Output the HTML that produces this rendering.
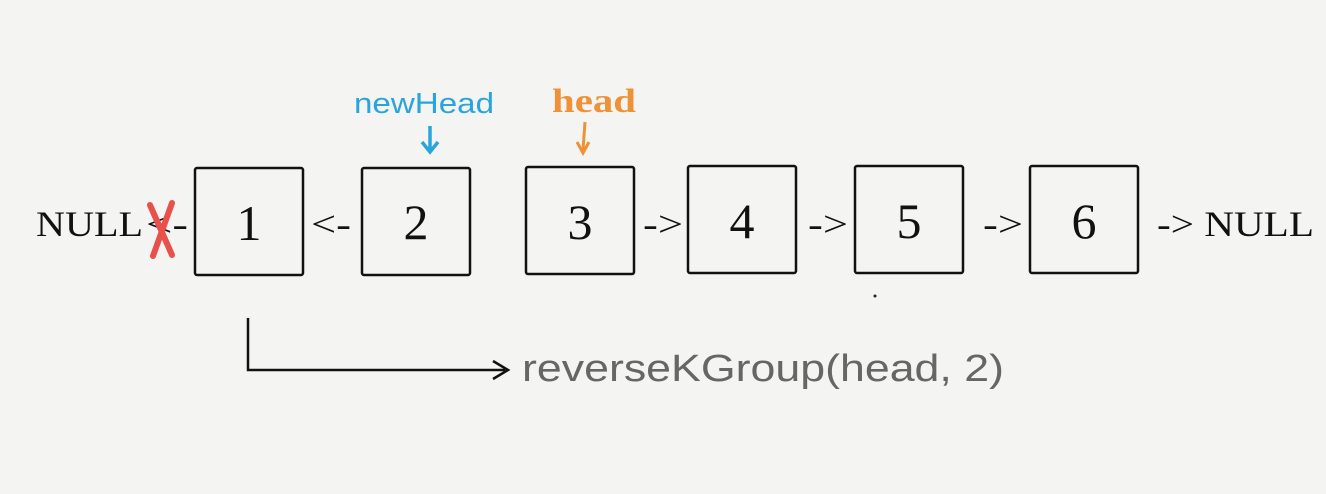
<html><body style="margin:0;background:#f4f4f3">
<svg width="1326" height="494" xmlns="http://www.w3.org/2000/svg" style="display:block">
<rect width="1326" height="494" fill="#f4f4f3"/>
<g fill="none" stroke="#111" stroke-width="2.5">
<rect x="195" y="168" width="108" height="107" rx="2"/>
<rect x="362" y="168" width="108" height="107" rx="2"/>
<rect x="526" y="167" width="108" height="107" rx="2"/>
<rect x="688" y="166" width="108" height="107" rx="2"/>
<rect x="855" y="166" width="108" height="107" rx="2"/>
<rect x="1030" y="166" width="108" height="107" rx="2"/>
<polyline points="248,318 248,370 505,370" stroke-width="2.5"/>
<polyline points="493,361 508,370 493,379" stroke-width="2.5"/>
</g>
<g font-family="Liberation Serif, serif" font-size="50" fill="#111" text-anchor="middle">
<text x="249" y="240">1</text><text x="416" y="239">2</text><text x="580" y="239">3</text>
<text x="742" y="238">4</text><text x="909" y="238">5</text><text x="1084" y="238">6</text>
</g>
<g font-family="Liberation Serif, serif" font-size="36" fill="#111">
<text x="36" y="236" textLength="107" lengthAdjust="spacingAndGlyphs">NULL</text>
<text x="146" y="236" textLength="42" lengthAdjust="spacingAndGlyphs">&lt;-</text>
<text x="311" y="236" textLength="40" lengthAdjust="spacingAndGlyphs">&lt;-</text>
<text x="643" y="236" textLength="40" lengthAdjust="spacingAndGlyphs">-&gt;</text>
<text x="808" y="236" textLength="40" lengthAdjust="spacingAndGlyphs">-&gt;</text>
<text x="983" y="236" textLength="40" lengthAdjust="spacingAndGlyphs">-&gt;</text>
<text x="1157" y="236" textLength="157" lengthAdjust="spacingAndGlyphs">-&gt; NULL</text>
</g>
<g stroke="#e8514a" stroke-width="6" stroke-linecap="round" fill="none">
<path d="M150,205 L172,255"/><path d="M172,203 L153,256"/>
</g>
<text x="354" y="113" font-family="Liberation Sans, sans-serif" font-size="29" fill="#2aa5dc" textLength="140" lengthAdjust="spacingAndGlyphs">newHead</text>
<path d="M430,126 V150 M422,142 L430,152 L438,142" stroke="#2aa5dc" stroke-width="3.5" fill="none"/>
<text x="552" y="112" font-family="Liberation Serif, serif" font-weight="bold" font-size="34" fill="#ef9237" textLength="84" lengthAdjust="spacingAndGlyphs">head</text>
<path d="M585,122 L583,150 M577,142 L583,153 L589,142" stroke="#ef9237" stroke-width="3" fill="none"/>
<text x="522" y="381" font-family="Liberation Sans, sans-serif" font-size="38" fill="#666" textLength="482" lengthAdjust="spacingAndGlyphs">reverseKGroup(head, 2)</text>
<circle cx="875" cy="296" r="1.5" fill="#222"/>
</svg>
</body></html>
